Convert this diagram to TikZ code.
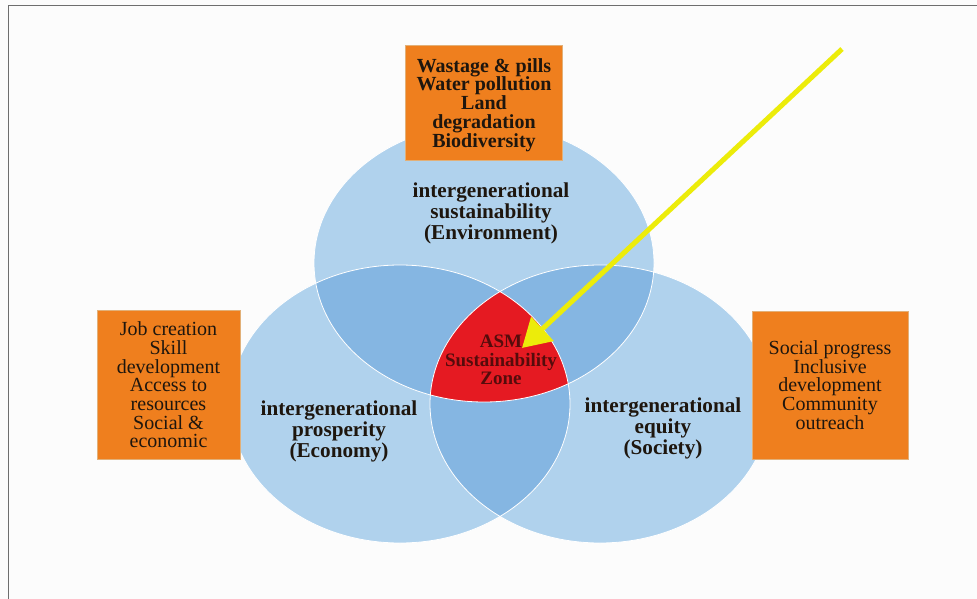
\documentclass[tikz,border=0pt]{standalone}
\usepackage{fontspec}
\setmainfont{Liberation Serif}
\usetikzlibrary{arrows.meta}

\definecolor{pagebg}{RGB}{252,252,252}
\definecolor{framegray}{RGB}{110,110,110}
\definecolor{setblue}{RGB}{176,210,237}
\definecolor{overlapblue}{RGB}{133,182,226}
\definecolor{zonered}{RGB}{229,26,34}
\definecolor{boxorange}{RGB}{239,127,30}
\definecolor{boxedge}{RGB}{226,176,120}
\definecolor{inktext}{RGB}{30,22,14}
\definecolor{zonetext}{RGB}{85,12,12}
\definecolor{pointer}{RGB}{236,236,10}

\tikzset{
  infobox/.style={draw=boxedge, line width=0.8pt, fill=boxorange, text=inktext,
    align=center, inner sep=0pt},
  boxtext/.style={font=\fontsize{20}{18.7}\selectfont},
  boldboxtext/.style={font=\fontsize{20}{18.8}\selectfont\bfseries},
  setlabel/.style={align=center, text=inktext, font=\fontsize{21.2}{21}\selectfont\bfseries},
  zonelabel/.style={align=center, text=zonetext, font=\fontsize{19}{18.5}\selectfont\bfseries},
  setrim/.style={draw=white, line width=0.8pt},
}

\newcommand{\setshape}[1]{(#1) ellipse [x radius=170, y radius=139]}

\begin{document}
\begin{tikzpicture}[x=1pt, y=-1pt]
  % page and frame
  \fill[pagebg] (0,0) rectangle (977,599);
  \useasboundingbox (0,0) rectangle (977,599);
  \draw[framegray, line width=1pt] (8,599) -- (8,6) -- (977,6);

  % centres of the three sets
  \coordinate (env) at (484,263);
  \coordinate (eco) at (400,404);
  \coordinate (soc) at (600,404);

  % the three sets
  \fill[setblue] \setshape{env};
  \fill[setblue] \setshape{eco};
  \fill[setblue] \setshape{soc};

  % pairwise overlaps
  \begin{scope}
    \clip \setshape{env};
    \fill[overlapblue] \setshape{eco};
    \fill[overlapblue] \setshape{soc};
  \end{scope}
  \begin{scope}
    \clip \setshape{eco};
    \fill[overlapblue] \setshape{soc};
  \end{scope}

  % common zone of all three sets
  \begin{scope}
    \clip \setshape{env};
    \clip \setshape{eco};
    \fill[zonered] \setshape{soc};
  \end{scope}

  % rims
  \draw[setrim] \setshape{env};
  \draw[setrim] \setshape{eco};
  \draw[setrim] \setshape{soc};

  % set labels
  \node[setlabel] (envlabel) at (491,213) {intergenerational\\sustainability\\(Environment)};
  \node[setlabel] (ecolabel) at (339,431) {intergenerational\\prosperity\\(Economy)};
  \node[setlabel] (soclabel) at (663,428) {intergenerational\\equity\\(Society)};
  \node[zonelabel] (zone) at (501,360) {ASM\\Sustainability\\Zone};

  % issue boxes
  \node[infobox, minimum width=157pt, minimum height=115pt] (envbox) at (483.5,102.5) {};
  \node[boldboxtext, align=center, text=inktext] (envtext) at (484,105)
    {Wastage \& pills\\Water pollution\\Land\\degradation\\Biodiversity};
  \node[infobox, minimum width=143pt, minimum height=149pt, boxtext] (ecobox) at (168.5,385)
    {Job creation\\Skill\\development\\Access to\\resources\\Social \&\\economic};
  \node[infobox, minimum width=156pt, minimum height=148pt, boxtext] (socbox) at (830,385)
    {Social progress\\Inclusive\\development\\Community\\outreach};

  % pointer into the common zone
  \coordinate (pointerstart) at (842,49);
  \coordinate (pointertip) at (522,348);
  \draw[pointer, line width=5pt, -{Triangle[length=28pt, width=32pt]}]
    (pointerstart) -- (pointertip);
\end{tikzpicture}
\end{document}
